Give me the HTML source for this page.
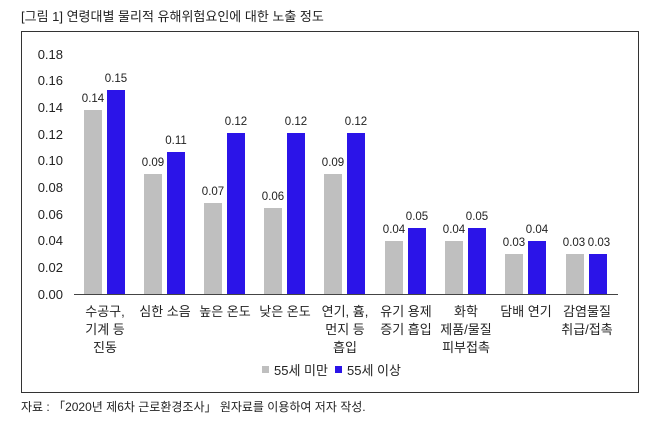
<!DOCTYPE html>
<html><head><meta charset="utf-8"><style>
body{margin:0;background:#fff;}
svg text{font-family:"Liberation Sans","Noto Sans CJK KR",sans-serif;fill:#222;}
</style></head><body>
<svg width="660" height="425" xmlns="http://www.w3.org/2000/svg">
<text x="21" y="21" font-size="13">[그림 1] 연령대별 물리적 유해위험요인에 대한 노출 정도</text>
<rect x="21.5" y="31.5" width="617" height="361" fill="none" stroke="#333" stroke-width="1"/>
<g font-size="13" text-anchor="end">
<text x="63" y="59">0.18</text><text x="63" y="85">0.16</text><text x="63" y="112">0.14</text>
<text x="63" y="139">0.12</text><text x="63" y="165">0.10</text><text x="63" y="192">0.08</text>
<text x="63" y="219">0.06</text><text x="63" y="245">0.04</text><text x="63" y="272">0.02</text>
<text x="63" y="299">0.00</text></g>
<line x1="74" y1="294.5" x2="618" y2="294.5" stroke="#444"/>
<g font-size="11.5" text-anchor="middle">
<rect x="84" y="110" width="18" height="184" fill="#bfbfbf"/><rect x="107" y="90" width="18" height="204" fill="#2b14e8"/>
<text x="93" y="102">0.14</text><text x="116" y="82">0.15</text>
<rect x="144" y="174" width="18" height="120" fill="#bfbfbf"/><rect x="167" y="152" width="18" height="142" fill="#2b14e8"/>
<text x="153" y="166">0.09</text><text x="176" y="144">0.11</text>
<rect x="204" y="203" width="18" height="91" fill="#bfbfbf"/><rect x="227" y="133" width="18" height="161" fill="#2b14e8"/>
<text x="213" y="195">0.07</text><text x="236" y="125">0.12</text>
<rect x="264" y="208" width="18" height="86" fill="#bfbfbf"/><rect x="287" y="133" width="18" height="161" fill="#2b14e8"/>
<text x="273" y="200">0.06</text><text x="296" y="125">0.12</text>
<rect x="324" y="174" width="18" height="120" fill="#bfbfbf"/><rect x="347" y="133" width="18" height="161" fill="#2b14e8"/>
<text x="333" y="166">0.09</text><text x="356" y="125">0.12</text>
<rect x="385" y="241" width="18" height="53" fill="#bfbfbf"/><rect x="408" y="228" width="18" height="66" fill="#2b14e8"/>
<text x="394" y="233">0.04</text><text x="417" y="220">0.05</text>
<rect x="445" y="241" width="18" height="53" fill="#bfbfbf"/><rect x="468" y="228" width="18" height="66" fill="#2b14e8"/>
<text x="454" y="233">0.04</text><text x="477" y="220">0.05</text>
<rect x="505" y="254" width="18" height="40" fill="#bfbfbf"/><rect x="528" y="241" width="18" height="53" fill="#2b14e8"/>
<text x="514" y="246">0.03</text><text x="537" y="233">0.04</text>
<rect x="566" y="254" width="18" height="40" fill="#bfbfbf"/><rect x="589" y="254" width="18" height="40" fill="#2b14e8"/>
<text x="574" y="246">0.03</text><text x="599" y="246">0.03</text>
</g>
<g font-size="13" text-anchor="middle">
<text x="105" y="316">수공구,</text><text x="105" y="334">기계 등</text><text x="105" y="352">진동</text>
<text x="165" y="316">심한 소음</text>
<text x="225" y="316">높은 온도</text>
<text x="285" y="316">낮은 온도</text>
<text x="345" y="316">연기, 흄,</text><text x="345" y="334">먼지 등</text><text x="345" y="352">흡입</text>
<text x="406" y="316">유기 용제</text><text x="406" y="334">증기 흡입</text>
<text x="466" y="316">화학</text><text x="466" y="334">제품/물질</text><text x="466" y="352">피부접촉</text>
<text x="526" y="316">담배 연기</text>
<text x="587" y="316">감염물질</text><text x="587" y="334">취급/접촉</text>
</g>
<rect x="262" y="366" width="7" height="7" fill="#bfbfbf"/>
<text x="274" y="375" font-size="13">55세 미만</text>
<rect x="335" y="366" width="7" height="7" fill="#2b14e8"/>
<text x="347" y="375" font-size="13">55세 이상</text>
<text x="21" y="411" font-size="12">자료 : 「2020년 제6차 근로환경조사」 원자료를 이용하여 저자 작성.</text>
</svg>
</body></html>
